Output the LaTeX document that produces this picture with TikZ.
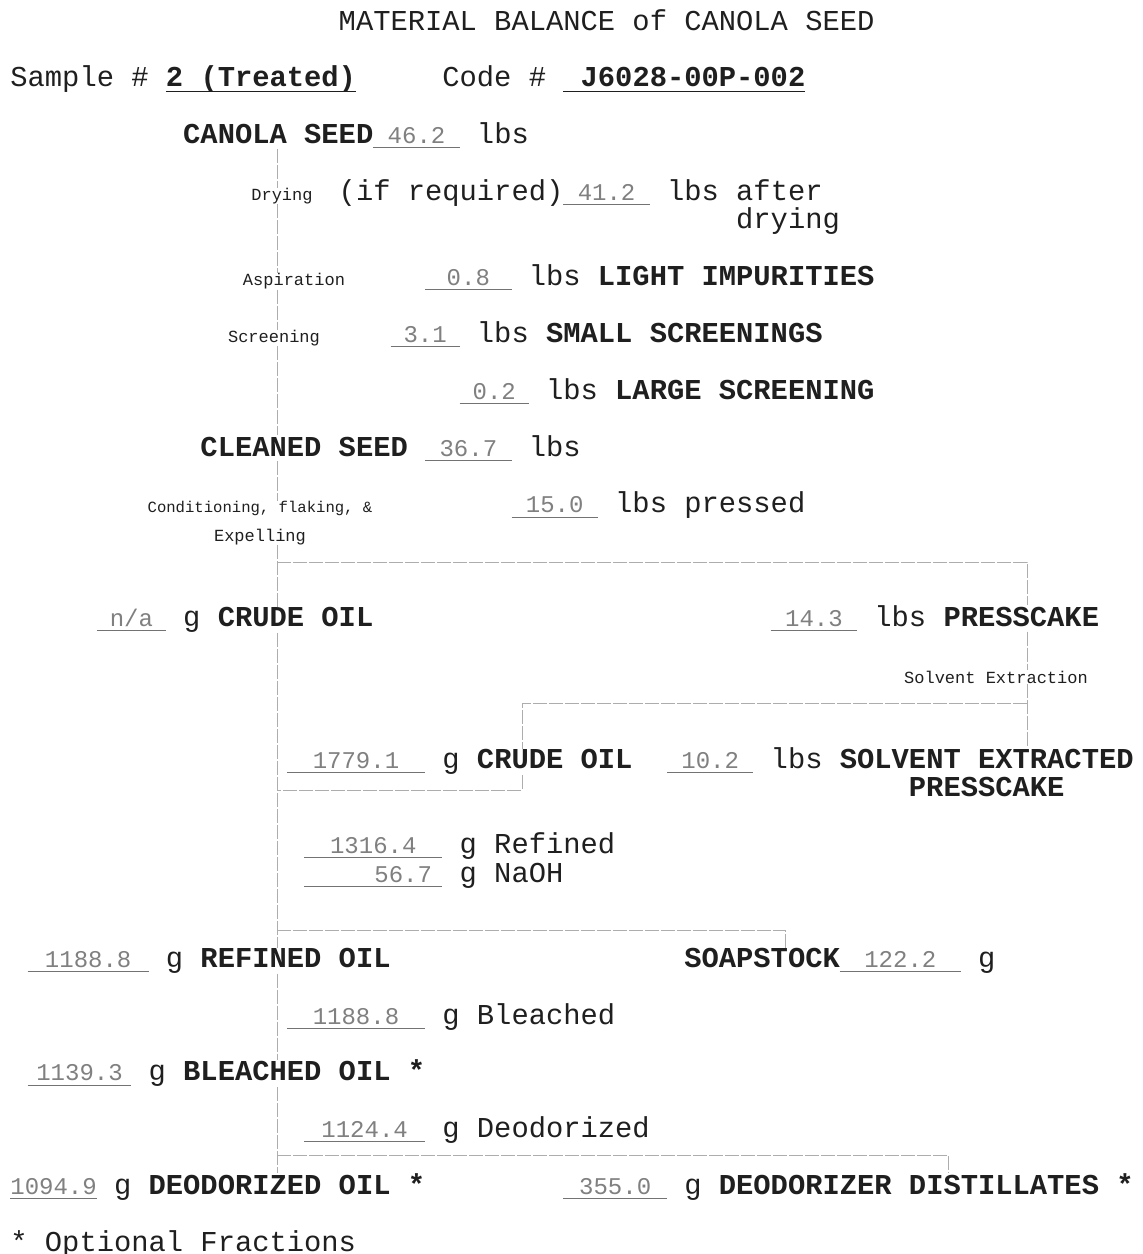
\documentclass[tikz,border=0pt]{standalone}
\usepackage{fontspec}
\setmainfont{Liberation Mono}
\setmonofont{Liberation Mono}

\definecolor{ink}{gray}{0.12}
\definecolor{hand}{gray}{0.50}
\definecolor{rulegray}{gray}{0.45}
\definecolor{flowgray}{gray}{0.68}

% one typewriter character cell at 14.4pt Courier pitch
\newlength\cw
\setlength\cw{8.64pt}
% typewriter grid: column -> x, line -> baseline y (units of the picture)
\newcommand\colx[1]{10+17.28*(#1)}
\newcommand\rowy[1]{30+28.4*(#1)}
% a typed blank of #1 cells with a hand-written entry
\newcommand\blank[2]{\makebox[0pt][l]{\color{rulegray}\rule[-2.4pt]{#1\cw}{0.5pt}}\makebox[#1\cw][c]{\color{hand}\fontsize{12}{12}\selectfont #2}}
\newcommand\blankr[2]{\makebox[0pt][l]{\color{rulegray}\rule[-2.4pt]{#1\cw}{0.5pt}}\makebox[#1\cw][r]{\color{hand}\fontsize{12}{12}\selectfont #2\hspace*{0.6\cw}}}
% typed underlined bold entry of #1 cells
\newcommand\typeul[2]{\makebox[0pt][l]{\rule[-2.6pt]{#1\cw}{0.6pt}}\textbf{#2}}

\tikzset{
  typed/.style={font=\fontsize{14.4}{14.4}\selectfont, text=ink, inner sep=0pt, anchor=base west},
  note/.style={font=\fontsize{8.5}{8.5}\selectfont, text=ink, inner sep=0pt, anchor=base},
  flow/.style={draw=flowgray, line width=0.45pt, dash pattern=on 7pt off 1pt}
}

\begin{document}
\begin{tikzpicture}[x=0.5pt, y=-0.5pt]
\fill[white] (0,0) rectangle (1143,1254);
\useasboundingbox (0,0) rectangle (1143,1254);

% heading
\node[typed] (title) at ({\colx{19}},{\rowy{0}}) {MATERIAL BALANCE of CANOLA SEED};
\node[typed] (sample) at ({\colx{0}},{\rowy{2}}) {Sample \# \typeul{11}{2 (Treated)}};
\node[typed] (code) at ({\colx{25}},{\rowy{2}}) {Code \# \typeul{14}{\hspace*{\cw}J6028-00P-002}};

% seed cleaning
\node[typed] (seed) at ({\colx{10}},{\rowy{4}}) {\textbf{CANOLA SEED}\blank{5}{46.2} lbs};
\node[note] (dry) at (282,{\rowy{6}}) {Drying};
\node[typed] (dried) at ({\colx{19}},{\rowy{6}}) {(if required)\blank{5}{41.2} lbs after};
\node[typed] (dried2) at ({\colx{42}},{\rowy{7}}) {drying};
\node[note] (asp) at (294,{\rowy{9}}) {Aspiration};
\node[typed] (light) at ({\colx{24}},{\rowy{9}}) {\blank{5}{0.8} lbs \textbf{LIGHT IMPURITIES}};
\node[note] (scr) at (274,{\rowy{11}}) {Screening};
\node[typed] (small) at ({\colx{22}},{\rowy{11}}) {\blank{4}{3.1} lbs \textbf{SMALL SCREENINGS}};
\node[typed] (large) at ({\colx{26}},{\rowy{13}}) {\blank{4}{0.2} lbs \textbf{LARGE SCREENING}};
\node[typed] (clean) at ({\colx{11}},{\rowy{15}}) {\textbf{CLEANED SEED} \blank{5}{36.7} lbs};

% pressing
\node[note, font=\fontsize{7.8}{7.8}\selectfont] (cond) at (260,{\rowy{17}}) {Conditioning, flaking, \&};
\node[note] (expel) at (260,{\rowy{18}}) {Expelling};
\node[typed] (press) at ({\colx{29}},{\rowy{17}}) {\blank{5}{15.0} lbs pressed};
\node[typed] (crude1) at ({\colx{5}},{\rowy{21}}) {\blank{4}{n/a} g \textbf{CRUDE OIL}};
\node[typed] (cake) at ({\colx{44}},{\rowy{21}}) {\blank{5}{14.3} lbs \textbf{PRESSCAKE}};

% solvent extraction
\node[note] (solv) at (996,{\rowy{23}}) {Solvent Extraction};
\node[typed] (crude2) at ({\colx{16}},{\rowy{26}}) {\blank{8}{1779.1} g \textbf{CRUDE OIL}};
\node[typed] (secake) at ({\colx{38}},{\rowy{26}}) {\blank{5}{10.2} lbs \textbf{SOLVENT EXTRACTED}};
\node[typed] (secake2) at ({\colx{52}},{\rowy{27}}) {\textbf{PRESSCAKE}};

% refining, bleaching, deodorizing
\node[typed] (refd) at ({\colx{17}},{\rowy{29}}) {\blank{8}{1316.4} g Refined};
\node[typed] (naoh) at ({\colx{17}},{\rowy{30}}) {\blankr{8}{56.7} g NaOH};
\node[typed] (refoil) at ({\colx{1}},{\rowy{33}}) {\blank{7}{1188.8} g \textbf{REFINED OIL}};
\node[typed] (soap) at ({\colx{39}},{\rowy{33}}) {\textbf{SOAPSTOCK}\blank{7}{122.2} g};
\node[typed] (bleach) at ({\colx{16}},{\rowy{35}}) {\blank{8}{1188.8} g Bleached};
\node[typed] (bloil) at ({\colx{1}},{\rowy{37}}) {\blank{6}{1139.3} g \textbf{BLEACHED OIL *}};
\node[typed] (deod) at ({\colx{17}},{\rowy{39}}) {\blank{7}{1124.4} g Deodorized};
\node[typed] (deoil) at ({\colx{0}},{\rowy{41}}) {\blank{5}{1094.9} g \textbf{DEODORIZED OIL *}};
\node[typed] (distil) at ({\colx{32}},{\rowy{41}}) {\blank{6}{355.0} g \textbf{DEODORIZER DISTILLATES *}};
\node[typed] (foot) at ({\colx{0}},{\rowy{43}}) {* Optional Fractions};

% flow lines
\coordinate (spine) at (277,0);
\coordinate (j1) at (277,562);
\coordinate (j1r) at (1027,562);
\coordinate (j2) at (1027,703);
\coordinate (j2l) at (522,703);
\coordinate (j5) at (522,790);
\coordinate (j3) at (277,930);
\coordinate (j3r) at (785,930);
\coordinate (j4) at (277,1155);
\coordinate (j4r) at (948,1155);

\draw[flow] (seed.south -| spine) -- (dry.north -| spine);
\draw[flow] (dry.south -| spine) -- (asp.north -| spine);
\draw[flow] (asp.south -| spine) -- (scr.north -| spine);
\draw[flow] (scr.south -| spine) -- (clean.north -| spine);
\draw[flow] (clean.south -| spine) -- (cond.north -| spine);
\draw[flow] (expel.south -| spine) -- (crude1.north -| spine);
\draw[flow] (j1) -- (j1r) -- (cake.north -| j1r);
\draw[flow] (cake.south -| j1r) -- (solv.north -| j1r);
\draw[flow] (solv.south -| j1r) -- (secake.north -| j1r);
\draw[flow] (j2) -- (j2l) -- (crude2.north -| j2l);
\draw[flow] (crude2.south -| j2l) -- (j5) -- (spine |- j5);
\draw[flow] (crude1.south -| spine) -- (refoil.north -| spine);
\draw[flow] (j3) -- (j3r) -- (soap.north -| j3r);
\draw[flow] (refoil.south -| spine) -- (bloil.north -| spine);
\draw[flow] (bloil.south -| spine) -- (deoil.north -| spine);
\draw[flow] (j4) -- (j4r) -- (distil.north -| j4r);
\end{tikzpicture}
\end{document}
